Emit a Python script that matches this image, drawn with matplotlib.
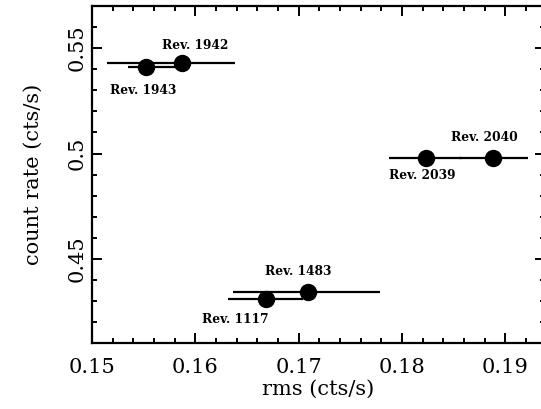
import numpy as np
import matplotlib
matplotlib.use('Agg')
import matplotlib.pyplot as plt
from matplotlib.ticker import MultipleLocator

# data
names = ['Rev. 1942', 'Rev. 1943', 'Rev. 2039', 'Rev. 2040', 'Rev. 1483', 'Rev. 1117']
rms = [0.15874, 0.15519, 0.18230, 0.18885, 0.17088, 0.16681]
rms_lo = [0.15142, 0.15348, 0.17878, 0.18553, 0.16368, 0.16319]
rms_hi = [0.16384, 0.15820, 0.18579, 0.19224, 0.17788, 0.17045]
rate = [0.5427, 0.5411, 0.4979, 0.4981, 0.4344, 0.4310]

# label positions (data coords)
lab_x = [0.15997, 0.15494, 0.18199, 0.18795, 0.16994, 0.16384]
lab_y = [0.5514, 0.5298, 0.4898, 0.50768, 0.4443, 0.42156]

plt.rcParams['font.family'] = 'DejaVu Serif'

fig = plt.figure(figsize=(5.41, 4.09), dpi=100)
ax = fig.add_axes([92/541, (409-343)/409, (545-92)/541, (343-6)/409])

x = np.array(rms)
xerr = np.array([x - np.array(rms_lo), np.array(rms_hi) - x])
ax.errorbar(x, rate, xerr=xerr, fmt='o', color='black', ms=11.5,
            elinewidth=1.6, capsize=0, zorder=3)

for n, lx, ly in zip(names, lab_x, lab_y):
    ax.text(lx, ly, n, fontsize=8.8, fontweight='bold', ha='center', va='center')

ax.set_xlim(0.15, 0.19385)
ax.set_ylim(0.4102, 0.5699)
ax.xaxis.set_major_locator(MultipleLocator(0.01))
ax.xaxis.set_minor_locator(MultipleLocator(0.002))
ax.yaxis.set_major_locator(MultipleLocator(0.05))
ax.yaxis.set_minor_locator(MultipleLocator(0.01))
ax.xaxis.set_major_formatter(plt.FuncFormatter(lambda v, p: '%g' % round(v, 3)))
ax.yaxis.set_major_formatter(plt.FuncFormatter(lambda v, p: '%g' % round(v, 3)))

ax.tick_params(which='both', direction='in', top=True, right=True, width=1.4)
ax.tick_params(which='major', length=7.5, labelsize=15)
ax.tick_params(which='minor', length=3.8)
ax.tick_params(axis='x', pad=11)
ax.tick_params(axis='y', labelrotation=90, pad=4)
for t in ax.get_yticklabels():
    t.set_va('center')
for s in ax.spines.values():
    s.set_linewidth(1.6)

ax.set_xlabel('rms (cts/s)', fontsize=15, labelpad=2)
ax.set_ylabel('count rate (cts/s)', fontsize=15, labelpad=18)

fig.savefig('out.png', dpi=100)
